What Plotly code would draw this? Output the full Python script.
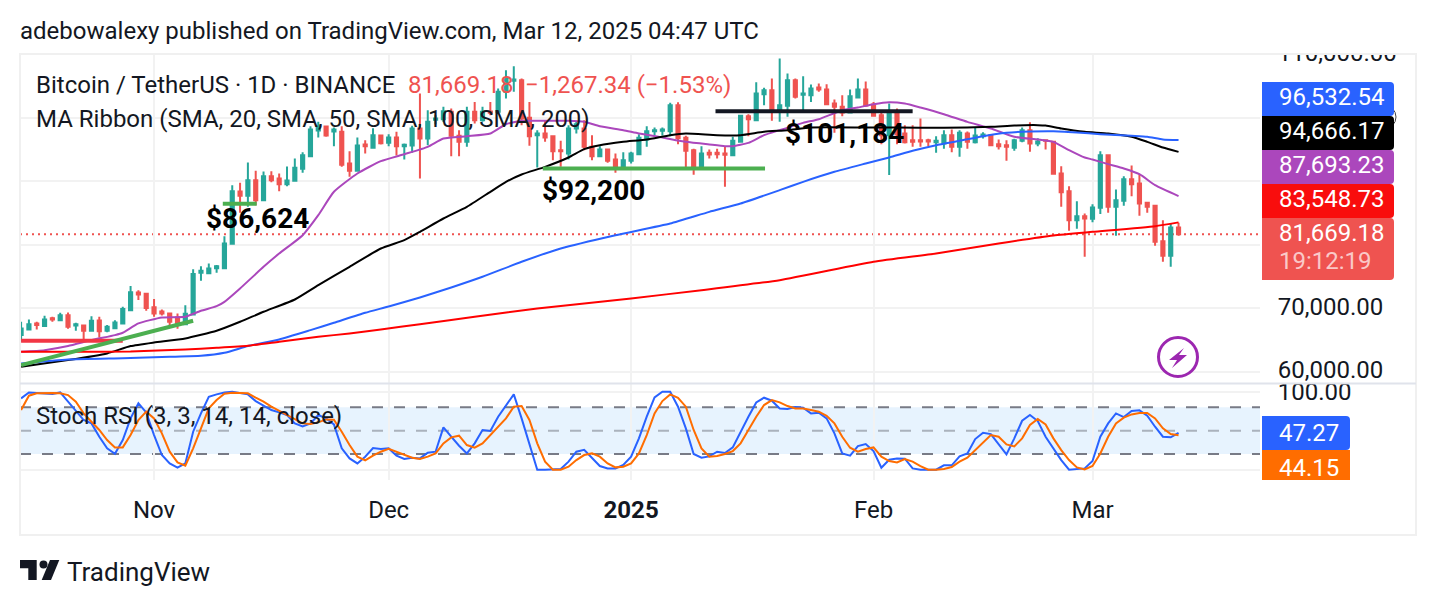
import pandas as pd
import plotly.graph_objects as go

W, H = 1436, 606

dates = pd.date_range("2024-10-15", "2025-03-12", freq="D")

opens = [
 65770,66660,67610,67190,68450,68130,68920,67290,67290,66450,68080,66450,66870,67610,69710,72500,72290,
 70180,69500,69180,68560,67500,69030,75600,75540,76330,76330,80170,88420,87740,90210,87050,90840,90470,89580,90100,91990,93990,98030,98670,97880,97830,92830,91680,95830,95300,97250,
 96090,96930,95570,95670,98350,96770,99720,99820,100980,97190,96250,100980,99660,101030,100980,104130,105870,105970,100030,97300,97560,97140,94940,94410,98350,98350,95460,93990,95040,93460,92200,
 93250,94300,96620,97930,98010,97930,102030,96880,94940,92200,94510,94510,94410,94150,96250,100300,99660,103760,104390,100980,101920,105970,103660,103610,104810,104500,102290,101770,100870,103240,104500,
 102130,100450,97300,100980,97560,96510,96510,96510,96200,95990,97300,95460,97560,96200,97140,97300,95880,95720,95300,96410,98090,95990,96510,96250,91260,88470,83900,84530,
 84110,85840,94150,86000,86950,90360,89680,86630,86160,80590,78280,82740]
highs = [
 67870,68240,67870,68820,68660,69290,69340,67710,67350,68760,68660,67350,68130,70240,73500,72860,72440,
 71450,69820,69290,69180,70500,76170,76650,77070,76810,81380,89420,89790,92990,91680,91570,91620,91260,92360,93620,94620,98720,99400,98720,98510,98720,94780,96930,96510,98400,97300,
 97460,97830,95990,98770,103870,101240,100450,101770,101500,98090,101770,102550,101770,102550,104660,107550,108180,106230,102550,98090,99560,97300,96410,98880,99400,99660,97300,95570,95150,94410,94620,
 94670,97460,98720,98510,98510,102400,102500,97190,95150,95570,95040,95150,95570,97040,100450,100610,105660,104760,106230,109390,107020,106230,106600,105290,105450,105340,102920,103610,104500,106230,105760,
 102550,101240,102290,101500,98880,98880,99930,96720,97140,98090,98190,98090,97880,98510,97770,97460,96620,96510,96720,98510,99350,96830,96620,96410,92410,89260,86890,84950,
 86420,94780,94300,88730,90840,92520,91150,86790,86260,83900,83370,83480]
lows = [
 64720,66560,66660,67080,67870,68030,66770,66450,65090,66400,65400,66240,66770,67500,69610,71290,69610,
 68660,68870,67350,66770,67400,68920,74340,75390,75600,76280,80120,85060,86000,86260,86950,89890,88470,89260,90000,91360,93880,96930,97040,95570,92310,90730,91570,94410,95200,95830,
 95570,94090,93460,94510,90470,95720,99030,99400,93990,93990,95460,99140,99400,100450,100870,103080,104130,98880,95620,92200,96250,93360,92310,93460,97560,94940,93360,93880,92940,91360,91890,
 92830,94200,95460,97250,97250,97140,95880,92200,91050,92150,93620,93620,89150,93990,96140,97140,99560,102030,99560,99400,100190,103080,101140,102550,104130,102030,97670,100300,100720,103080,101770,
 100190,95880,91000,95880,95990,95460,95460,95570,94510,95150,94620,93880,95150,95990,96770,95670,95040,93250,94830,96200,94670,95570,95040,91150,86000,82220,82530,78120,
 83580,84850,85060,81430,86160,87680,84580,85060,79850,77330,76540,81430]
closes = [
 66820,67500,67350,68240,68240,68920,67080,67500,66450,68030,66400,67080,67770,69870,72550,72180,70030,
 69180,69180,67870,67450,69130,75390,75910,76280,76650,80220,88470,87740,90210,87050,90840,90210,89580,90150,92150,94150,98190,98720,97250,98190,92620,91680,95670,95570,97300,96040,
 96930,95570,95780,98350,96770,99400,99930,101080,97190,96250,100980,99660,100980,100820,104130,106230,106080,99930,97140,97560,96930,94780,94780,98350,99030,95460,93990,95040,93250,92200,93360,
 94410,96880,97930,98090,98200,102030,96830,94830,92310,94410,94250,94300,94200,96410,100350,99820,103870,104390,100980,102030,105970,103340,103870,104660,104500,102190,101770,100870,103450,104500,101980,
 100350,97300,100980,97410,96200,96250,96300,96300,96410,97300,95460,97670,96250,97250,97410,95720,95570,95460,96510,98090,95990,96300,96410,91200,88310,83900,84530,84160,
 85900,94150,86000,87050,90360,89580,86530,86000,80480,78280,82740,81669.18]

sma20_dates = ["2024-10-15","2024-10-18","2024-10-21","2024-10-24","2024-10-27","2024-10-28","2024-10-30","2024-11-02","2024-11-05","2024-11-07","2024-11-09","2024-11-10","2024-11-12","2024-11-15","2024-11-17","2024-11-20","2024-11-22","2024-11-24","2024-11-27","2024-11-30","2024-12-03","2024-12-06","2024-12-08","2024-12-11","2024-12-14","2024-12-16","2024-12-18","2024-12-21","2024-12-24","2024-12-26","2024-12-28","2024-12-31","2025-01-02","2025-01-05","2025-01-08","2025-01-11","2025-01-13","2025-01-14","2025-01-16","2025-01-18","2025-01-20","2025-01-23","2025-01-25","2025-01-28","2025-01-30","2025-02-01","2025-02-03","2025-02-05","2025-02-07","2025-02-10","2025-02-13","2025-02-16","2025-02-19","2025-02-22","2025-02-24","2025-02-26","2025-02-28","2025-03-01","2025-03-03","2025-03-05","2025-03-07","2025-03-09","2025-03-12"]
sma20 = [63140,63400,64040,64980,65770,66140,67610,68550,68660,69610,70340,71020,73130,76540,78640,81530,84690,88370,91260,93200,94300,95460,96770,97140,97560,99030,99560,99560,99560,99400,98720,98090,97560,96930,96250,95830,95570,95570,96090,97300,98090,99240,99820,101240,101660,102190,102500,102290,101660,100610,99400,98350,97040,96620,96250,94940,93780,93460,92730,92040,91150,89420,87693.23]

sma50_dates = ["2024-10-15","2024-10-21","2024-10-26","2024-10-29","2024-11-01","2024-11-05","2024-11-09","2024-11-12","2024-11-15","2024-11-19","2024-11-22","2024-11-26","2024-11-30","2024-12-03","2024-12-05","2024-12-08","2024-12-11","2024-12-14","2024-12-16","2024-12-18","2024-12-21","2024-12-24","2024-12-26","2024-12-28","2024-12-31","2025-01-03","2025-01-06","2025-01-08","2025-01-12","2025-01-15","2025-01-18","2025-01-21","2025-01-24","2025-01-31","2025-02-04","2025-02-10","2025-02-16","2025-02-19","2025-02-22","2025-02-23","2025-02-25","2025-02-28","2025-03-03","2025-03-06","2025-03-08","2025-03-10","2025-03-12"]
sma50 = [60780,61830,62880,64040,64610,65240,66450,67870,69450,71390,73650,76540,79430,80750,82060,84160,86000,88370,89940,91100,92310,93780,95090,95720,96250,96620,97300,97560,97300,97300,97830,98090,98510,98510,98510,98460,98610,98820,98880,98820,98350,97830,97560,97040,96250,95360,94666.17]

sma100_dates = ["2024-10-15","2024-10-21","2024-10-28","2024-11-03","2024-11-07","2024-11-10","2024-11-13","2024-11-17","2024-11-21","2024-11-24","2024-11-28","2024-12-01","2024-12-05","2024-12-09","2024-12-13","2024-12-18","2024-12-23","2024-12-30","2025-01-06","2025-01-11","2025-01-15","2025-01-20","2025-01-23","2025-01-27","2025-01-31","2025-02-03","2025-02-06","2025-02-09","2025-02-12","2025-02-15","2025-02-18","2025-02-21","2025-02-24","2025-02-27","2025-03-02","2025-03-06","2025-03-08","2025-03-10","2025-03-12"]
sma100 = [61300,61930,62140,62350,62510,62980,64040,65090,66560,67710,69290,70290,71710,73280,74970,77330,79430,81530,83370,85210,86530,88630,89940,91520,92830,93780,94830,95720,96410,97140,97670,97880,97930,97720,97460,97190,97040,96620,96532.54]

sma200_dates = ["2024-10-15","2024-10-21","2024-10-29","2024-11-05","2024-11-09","2024-11-13","2024-11-17","2024-11-22","2024-11-26","2024-11-30","2024-12-05","2024-12-12","2024-12-20","2025-01-01","2025-01-10","2025-01-20","2025-02-01","2025-02-09","2025-02-17","2025-02-24","2025-03-01","2025-03-09","2025-03-12"]
sma200 = [63140,63140,63190,63510,63770,64090,64720,65510,66030,66660,67500,68660,69970,71550,72860,74440,77330,78640,80220,81480,82060,82950,83548.73]

stoch_k = [
 91.5,99.1,98.3,97.9,97.0,99.1,87.2,74.4,63.7,59.4,42.3,27.4,20.5,38.0,65.8,85.1,73.5,
 44.4,18.8,8.1,2.6,8.1,48.7,72.2,93.6,96.6,99.1,100,97.9,96.6,88.0,82.1,76.5,73.5,70.1,59.4,55.6,59.4,70.1,65.8,58.1,27.4,14.5,8.1,16.7,27.8,26.5,
 27.4,18.0,13.7,15.4,14.5,21.8,23.1,54.3,42.3,30.8,20.9,33.8,50.9,49.6,68.0,82.1,96.6,65.8,31.6,0,0,0,0.9,10.3,23.1,25.6,14.5,4.7,1.7,1.7,6.0,
 16.7,40.2,68.0,92.7,100,100,80.8,53.0,20.1,15.4,17.1,23.1,21.4,28.6,48.7,68.0,86.3,92.3,88.5,78.6,77.8,80.4,79.5,72.2,73.1,65.8,46.6,20.9,18.0,30.3,32.9,
 23.9,2.6,12.8,14.5,14.1,1.7,0,0,0,5.6,5.6,17.1,20.9,39.3,47.4,45.7,32.5,19.7,40.2,62.8,70.1,62.4,42.3,27.4,12.4,0,0.9,1.7,
 11.1,42.3,59.4,72.2,67.5,75.2,76.1,69.2,55.1,42.3,41.5,47.27]
stoch_d = [
 76.5,94.9,97.9,98.3,98.3,97.9,95.7,87.2,72.2,61.5,50.9,38.0,28.6,28.6,44.4,63.7,74.4,
 65.8,46.6,23.1,9.4,5.1,27.4,53.0,78.6,89.3,97.4,98.7,98.7,97.9,92.3,87.2,80.8,75.2,70.1,65.0,59.4,58.6,60.7,64.5,64.1,48.7,31.6,16.7,12.0,18.0,23.1,
 26.9,23.1,18.8,15.4,13.7,16.7,20.9,33.8,41.5,43.6,31.6,28.2,33.8,44.4,56.4,65.8,80.8,81.6,63.7,33.8,10.3,0,0,3.8,12.4,18.8,20.9,16.7,8.1,3.0,3.8,
 8.1,20.9,44.4,72.2,88.0,96.6,92.3,80.8,50.9,27.4,16.7,17.5,20.1,23.9,33.8,50.9,68.0,82.9,89.3,86.3,81.6,78.6,78.6,76.5,74.4,69.2,59.4,42.3,28.2,23.1,26.5,
 28.6,16.7,11.1,9.4,13.7,10.3,4.7,0,0,0.9,3.4,10.3,15.4,25.2,35.9,44.4,42.3,32.5,29.9,40.2,57.3,65.0,58.1,40.2,25.2,12.4,3.0,0.4,
 4.7,20.9,42.3,59.4,66.7,70.9,72.7,72.7,65.8,53.0,45.7,44.15]

assert len(opens) == len(highs) == len(lows) == len(closes) == len(dates) == len(stoch_k) == len(stoch_d)
assert len(sma20) == len(sma20_dates) and len(sma50) == len(sma50_dates)
assert len(sma100) == len(sma100_dates) and len(sma200) == len(sma200_dates)

price_ticks = [60000, 70000, 80000, 90000, 100000, 110000]
price_tick_labels = ["60,000.00", "70,000.00", "", "", "", "110,000.00"]
month_ticks = ["2024-11-01", "2024-12-01", "2025-01-01", "2025-02-01", "2025-03-01"]
month_labels = ["Nov", "Dec", "<b>2025</b>", "Feb", "Mar"]

FG = "#131722"
UP = "#26a69a"
DOWN = "#ef5350"
GRID = "#f2f2f2"
BLUE = "#2962ff"
ORANGE = "#ff6d00"
PURPLE = "#ab47bc"
SIG = "#9c27b0"
FONT = "Roboto"


def fx(px):
    return px / W


def fy(px):
    return 1 - px / H


fig = go.Figure()
fig.add_trace(go.Candlestick(
    x=dates, open=opens, high=highs, low=lows, close=closes, name="BTCUSDT",
    increasing=dict(line=dict(color=UP, width=2), fillcolor=UP),
    decreasing=dict(line=dict(color=DOWN, width=2), fillcolor=DOWN),
    whiskerwidth=0, xaxis="x", yaxis="y", hoverinfo="skip"))
for name, xs, ys, col in [("SMA 20", sma20_dates, sma20, PURPLE),
                          ("SMA 50", sma50_dates, sma50, "#000000"),
                          ("SMA 100", sma100_dates, sma100, BLUE),
                          ("SMA 200", sma200_dates, sma200, "#ff0000")]:
    fig.add_trace(go.Scatter(x=xs, y=ys, mode="lines", name=name,
                             line=dict(color=col, width=2, shape="spline", smoothing=0.5),
                             xaxis="x", yaxis="y", hoverinfo="skip"))
fig.add_trace(go.Scatter(x=dates, y=stoch_k, mode="lines", name="%K",
                         line=dict(color=BLUE, width=2), xaxis="x2", yaxis="y2", hoverinfo="skip"))
fig.add_trace(go.Scatter(x=dates, y=stoch_d, mode="lines", name="%D",
                         line=dict(color=ORANGE, width=2), xaxis="x2", yaxis="y2", hoverinfo="skip"))

shapes = []
# RSI band and levels
shapes.append(dict(type="rect", xref="paper", yref="y2", x0=fx(20), x1=fx(1260), y0=20, y1=80,
                   fillcolor="rgba(33,150,243,0.11)", line_width=0, layer="below"))
for lvl, col in [(80, "#787b86"), (50, "rgba(120,123,134,0.55)"), (20, "#787b86")]:
    shapes.append(dict(type="line", xref="paper", yref="y2", x0=fx(20), x1=fx(1260), y0=lvl, y1=lvl,
                       line=dict(color=col, width=2, dash="11px,11px"), layer="below"))
# last price line
shapes.append(dict(type="line", xref="paper", yref="y", x0=fx(20), x1=fx(1260),
                   y0=closes[-1], y1=closes[-1],
                   line=dict(color=DOWN, width=2, dash="2px,4px"), layer="below"))
# drawn trend lines
shapes += [
    dict(type="line", xref="x", yref="y", x0="2024-10-15", x1="2024-10-28", y0=64880, y1=64880,
         line=dict(color="#f23645", width=4)),
    dict(type="line", xref="x", yref="y", x0="2024-10-15", x1="2024-11-06", y0=61040, y1=68030,
         line=dict(color="#4caf50", width=4)),
    dict(type="line", xref="x", yref="y", x0="2024-11-09 19:00", x1="2024-11-14 03:00", y0=86500, y1=86500,
         line=dict(color="#4caf50", width=4)),
    dict(type="line", xref="x", yref="y", x0="2024-12-20 17:00", x1="2025-01-18 03:00", y0=92050, y1=92050,
         line=dict(color="#4caf50", width=4)),
    dict(type="line", xref="x", yref="y", x0="2025-01-11 19:00", x1="2025-02-06", y0=101080, y1=101080,
         line=dict(color="#131722", width=4)),
]
# mask for the clipped top label
shapes.append(dict(type="rect", xref="paper", yref="paper", x0=fx(1262), x1=fx(1414), y0=fy(54), y1=fy(30),
                   fillcolor="white", line_width=0, layer="above"))
# frame
frame = "#f0f0f0"
shapes.append(dict(type="rect", xref="paper", yref="paper", x0=fx(20), x1=fx(1416), y0=fy(535), y1=fy(54),
                   line=dict(color=frame, width=2), fillcolor="rgba(0,0,0,0)", layer="above"))
shapes.append(dict(type="line", xref="paper", yref="paper", x0=fx(20), x1=fx(1416), y0=fy(383.5), y1=fy(383.5),
                   line=dict(color="#e0e3eb", width=2), layer="above"))


def tag(x0, x1, y0, y1, col, r=4):
    path = (f"M {fx(x0)} {fy(y0)} L {fx(x1 - r)} {fy(y0)} Q {fx(x1)} {fy(y0)} {fx(x1)} {fy(y0 + r)} "
            f"L {fx(x1)} {fy(y1 - r)} Q {fx(x1)} {fy(y1)} {fx(x1 - r)} {fy(y1)} L {fx(x0)} {fy(y1)} Z")
    return dict(type="path", xref="paper", yref="paper", path=path, fillcolor=col, line_width=0, layer="above")


shapes.append(dict(type="circle", xref="paper", yref="paper", x0=fx(1372), x1=fx(1396), y0=fy(129), y1=fy(105),
                   line=dict(color="#444444", width=1), fillcolor="white", layer="above"))
shapes += [tag(1262, 1394, 82, 116, BLUE), tag(1262, 1394, 116, 150, "#000000"),
           tag(1262, 1394, 150, 184, PURPLE), tag(1262, 1394, 184, 218, "#f90d0d"),
           tag(1262, 1394, 218, 280, DOWN), tag(1262, 1350, 416, 450, BLUE)]
shapes.append(dict(type="rect", xref="paper", yref="paper", x0=fx(1262), x1=fx(1350), y0=fy(480), y1=fy(450),
                   fillcolor=ORANGE, line_width=0, layer="above"))
# lightning badge
shapes.append(dict(type="circle", xref="paper", yref="paper", x0=fx(1158.5), x1=fx(1197.5), y0=fy(376.5), y1=fy(337.5),
                   line=dict(color=SIG, width=3), fillcolor="rgba(255,255,255,0.9)", layer="above"))
bolt = [(1184, 348), (1169, 360), (1177, 360), (1172, 368), (1187, 355), (1179, 355)]
shapes.append(dict(type="path", xref="paper", yref="paper",
                   path="M " + " L ".join(f"{fx(a)} {fy(b)}" for a, b in bolt) + " Z",
                   fillcolor=SIG, line_width=0, layer="above"))
# TradingView mark
mark_t = [(20, 560), (36.7, 560), (36.7, 580), (28.3, 580), (28.3, 568.3), (20, 568.3)]
mark_s = [(59.3, 560), (50, 560), (41.7, 580), (51, 580)]
for pts in (mark_t, mark_s):
    shapes.append(dict(type="path", xref="paper", yref="paper",
                       path="M " + " L ".join(f"{fx(a)} {fy(b)}" for a, b in pts) + " Z",
                       fillcolor=FG, line_width=0))
shapes.append(dict(type="circle", xref="paper", yref="paper", x0=fx(39.5), x1=fx(47.5), y0=fy(568.5), y1=fy(560.5),
                   fillcolor=FG, line_width=0))


def note(text, x, y, size=24, color=FG, anchor="left", xref="paper"):
    return dict(text=text, x=fx(x), y=fy(y), xref="paper", yref="paper", showarrow=False, xanchor=anchor,
                yanchor="middle", font=dict(family=FONT, size=size, color=color), borderpad=0, borderwidth=0)


annotations = [
    note("adebowalexy published on TradingView.com, Mar 12, 2025 04:47 UTC", 20, 31),
    note("Bitcoin / TetherUS · 1D · BINANCE", 36, 85),
    note("81,669.18", 408, 85, color=DOWN),
    note("−1,267.34 (−1.53%)", 525, 85, color=DOWN),
    note("MA Ribbon (SMA, 20, SMA, 50, SMA, 100, SMA, 200)", 36, 119),
    note("Stoch RSI (3, 3, 14, 14, close)", 36, 416),
    note("<b>$86,624</b>", 257.5, 218, size=28, color="#000000", anchor="center"),
    note("<b>$92,200</b>", 593.5, 190, size=28, color="#000000", anchor="center"),
    note("<b>$101,184</b>", 844, 133, size=28, color="#000000", anchor="center"),
    note("96,532.54", 1279, 97, color="white"),
    note("94,666.17", 1279, 131, color="white"),
    note("87,693.23", 1279, 165, color="white"),
    note("83,548.73", 1279, 199, color="white"),
    note("81,669.18", 1279, 233, color="white"),
    note("19:12:19", 1279, 261, color="rgba(255,255,255,0.7)"),
    note("47.27", 1279, 433, color="white"),
    note("44.15", 1279, 468, color="white"),
    note("TradingView", 67, 572, size=26, color=FG),
]

x_range = ["2024-10-14 20:38", "2025-03-22 10:00"]
fig.update_layout(
    width=W, height=H, margin=dict(l=0, r=0, t=0, b=0), paper_bgcolor="white", plot_bgcolor="white",
    showlegend=False, boxgap=0.42, font=dict(family=FONT, size=24, color=FG), hovermode=False,
    shapes=shapes, annotations=annotations,
    xaxis=dict(domain=[fx(20), fx(1260)], range=x_range, type="date", anchor="y", rangeslider=dict(visible=False),
               tickvals=month_ticks, ticktext=[""] * 5, ticks="", showgrid=True, gridcolor=GRID, gridwidth=2,
               zeroline=False, showline=False, automargin=False),
    yaxis=dict(domain=[fy(383), fy(54)], range=[58220, 110100], side="right", anchor="x",
               tickvals=price_ticks, ticktext=price_tick_labels, ticks="outside", ticklen=12,
               tickcolor="rgba(0,0,0,0)", showgrid=True, gridcolor=GRID, gridwidth=2, zeroline=False,
               ticklabelshift=-2,
               tickfont=dict(family=FONT, size=24, color=FG), showline=False, automargin=False),
    xaxis2=dict(domain=[fx(20), fx(1260)], range=x_range, type="date", anchor="y2",
                tickvals=month_ticks, ticktext=month_labels, ticks="outside", ticklen=8,
                tickcolor="rgba(0,0,0,0)", showgrid=True, gridcolor=GRID, gridwidth=2, zeroline=False,
                tickfont=dict(family=FONT, size=24, color=FG), showline=False, automargin=False),
    yaxis2=dict(domain=[fy(480), fy(384)], range=[-13.2, 109.9], side="right", anchor="x2",
                tickvals=[0, 100], ticktext=["", "100.00"], ticks="outside", ticklen=12,
                tickcolor="rgba(0,0,0,0)", showgrid=True, gridcolor=GRID, gridwidth=2, zeroline=False,
                tickfont=dict(family=FONT, size=24, color=FG), showline=False, automargin=False),
)

fig.write_html("out.html", config={"displayModeBar": False},
               post_script="document.body.style.margin='0';")
